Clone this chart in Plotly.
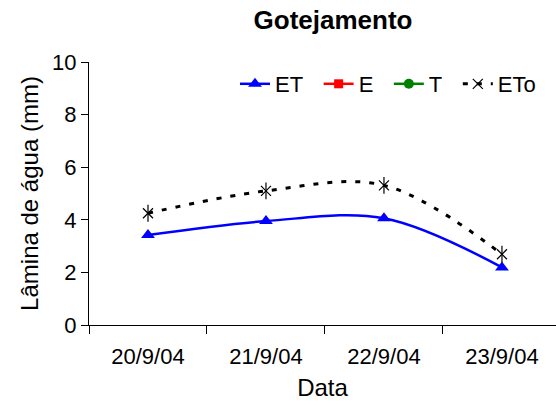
import plotly.graph_objects as go

categories = ["20/9/04", "21/9/04", "22/9/04", "23/9/04"]
et_values = [3.42, 3.95, 4.06, 2.19]
e_values = [None, None, None, None]
t_values = [None, None, None, None]
eto_values = [4.25, 5.10, 5.31, 2.69]

FONT = "Liberation Sans, Arial, sans-serif"
PAD = "\u00a0\u2009"

fig = go.Figure()
fig.add_trace(go.Scatter(
    x=categories, y=et_values, name="ET" + PAD, mode="lines+markers",
    line=dict(color="#0000FF", width=2.5, shape="spline", smoothing=1),
    marker=dict(symbol="triangle-up", size=12, color="#0000FF"),
))
fig.add_trace(go.Scatter(
    x=categories, y=e_values, name="E" + PAD, mode="lines+markers",
    line=dict(color="#FF0000", width=2.5),
    marker=dict(symbol="square", size=9, color="#FF0000"),
))
fig.add_trace(go.Scatter(
    x=categories, y=t_values, name="T" + PAD, mode="lines+markers",
    line=dict(color="#008000", width=2.5),
    marker=dict(symbol="circle", size=10, color="#008000"),
))
fig.add_trace(go.Scatter(
    x=categories, y=eto_values, name="ETo", mode="lines+markers",
    line=dict(color="black", width=3, dash="5px,9px", shape="spline", smoothing=1),
    marker=dict(symbol="x-thin-open", size=10, color="black", line=dict(color="black", width=1.2)),
))
fig.add_trace(go.Scatter(
    x=categories, y=eto_values, name="ETo", mode="markers", showlegend=False,
    marker=dict(symbol="line-ns-open", size=12, color="black", line=dict(color="black", width=1.2)),
))

fig.update_layout(
    width=556, height=406,
    margin=dict(l=89, r=0, t=62, b=81, autoexpand=False),
    paper_bgcolor="white", plot_bgcolor="white",
    font=dict(family=FONT, size=22, color="black"),
    title=dict(text="<b>Gotejamento</b>", font=dict(size=26, family=FONT, color="black"),
               x=333 / 556, xref="container", xanchor="center",
               y=1 - 20 / 406, yref="container", yanchor="middle"),
    showlegend=True,
    legend=dict(orientation="h", x=(235 - 89) / 467, xref="paper", xanchor="left",
                y=1 - (84 - 62) / 263, yref="paper", yanchor="middle",
                font=dict(size=22, family=FONT), bgcolor="rgba(0,0,0,0)",
                itemwidth=30, tracegroupgap=0),
    xaxis=dict(
        type="category", range=[-0.5, 3.458], tickson="boundaries", automargin=False,
        showline=True, linecolor="black", linewidth=1, mirror=False,
        ticks="outside", ticklen=8, tickcolor="black", tickwidth=1,
        showgrid=False, zeroline=False, tickfont=dict(size=22), ticklabelstandoff=12,
        title=dict(text="Data", font=dict(size=24), standoff=10),
    ),
    yaxis=dict(
        range=[0, 10], dtick=2, showline=True, linecolor="black", linewidth=1, automargin=False,
        ticks="outside", ticklen=7, tickcolor="black", tickwidth=1,
        showgrid=False, zeroline=False, tickfont=dict(size=22),
        title=dict(text="Lâmina de água (mm)", font=dict(size=24), standoff=6),
    ),
)

fig.write_html("out.html", config={"displayModeBar": False},
               post_script="document.body.style.margin='0';")
